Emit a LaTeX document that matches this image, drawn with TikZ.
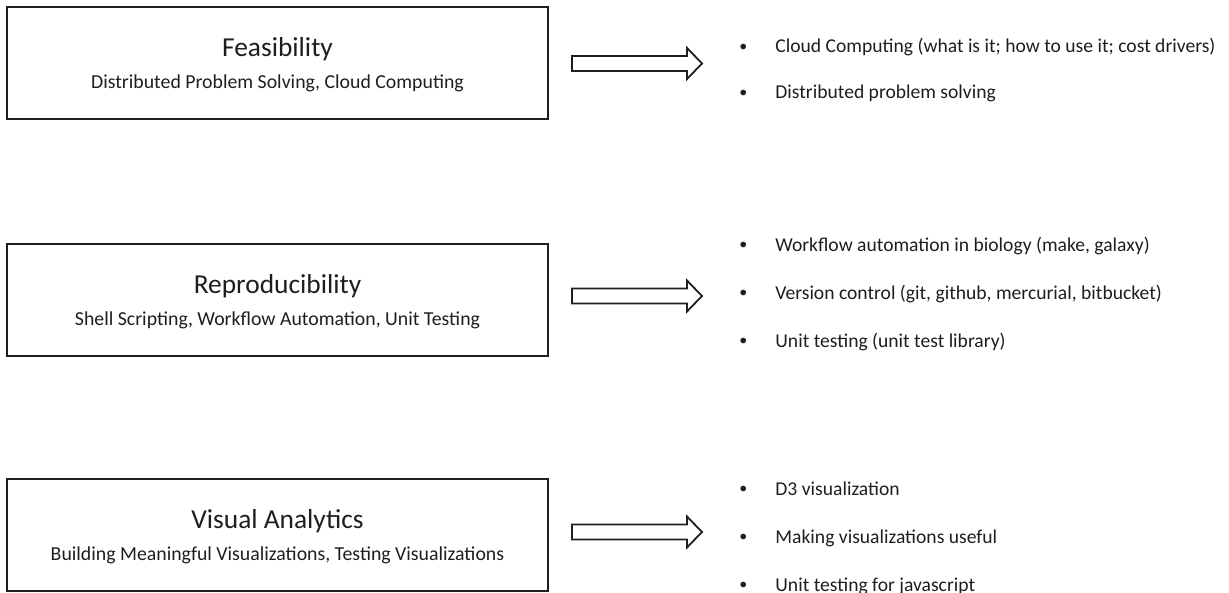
\documentclass[tikz,border=0pt]{standalone}
\usepackage{fontspec}
\setmainfont{Carlito}
\definecolor{ink}{HTML}{1E1E1E}
\newcommand{\bul}{\makebox[18pt][l]{\raisebox{0.6pt}{\fontsize{8}{9}\selectfont\textbullet}}}
\tikzstyle{topic}=[draw=ink, line width=1pt, minimum width=270.5pt,
	                   minimum height=56pt, inner sep=0pt]
\tikzstyle{topichead}=[text=ink, font=\fontsize{13.7}{16}\selectfont,
	                       anchor=base, inner sep=0pt]
\tikzstyle{topicsub}=[text=ink, font=\fontsize{9.9}{12}\selectfont,
	                      anchor=base, inner sep=0pt]
\tikzstyle{blockarrow}=[draw=ink, line width=0.9pt, line join=miter]
\tikzstyle{item}=[text=ink, font=\fontsize{9.8}{12}\selectfont,
	                  anchor=base west, inner sep=0pt]
\begin{document}
\begin{tikzpicture}[x=0.5pt, y=-0.5pt]
\useasboundingbox (0,0) rectangle (1229,593);
\foreach \n/\y/\a/\head/\sub in {
	1/63/63.5/Feasibility/{Distributed Problem Solving, Cloud Computing},
	2/299.5/296/Reproducibility/{Shell Scripting, Workflow Automation, Unit Testing},
	3/534.5/532/Visual Analytics/{Building Meaningful Visualizations, Testing Visualizations}}
{
	\node[topic] (box\n) at (277.5,\y) {};
	\node[topichead] (head\n) at ([yshift=-25.5pt]box\n.north) {\head};
	\node[topicsub] (sub\n) at ([yshift=-41.5pt]box\n.north) {\sub};
	\draw[blockarrow, shift={(0,\a)}] (572,-7.5) -- (687,-7.5) -- (687,-15.5)
		-- (702,0) -- (687,15.5) -- (687,7.5) -- (572,7.5) -- cycle;
}
% feasibility
\node[item] (feas1) at (739,53) {\bul Cloud Computing (what is it; how to use it; cost drivers)};
\node[item] (feas2) at (739,99) {\bul Distributed problem solving};
% reproducibility
\node[item] (repr1) at (739,251) {\bul Workflow automation in biology (make, galaxy)};
\node[item] (repr2) at (739,299) {\bul Version control (git, github, mercurial, bitbucket)};
\node[item] (repr3) at (739,347) {\bul Unit testing (unit test library)};
% visual analytics
\node[item] (visu1) at (739,495) {\bul D3 visualization};
\node[item] (visu2) at (739,543) {\bul Making visualizations useful};
\node[item] (visu3) at (739,591) {\bul Unit testing for javascript};
\end{tikzpicture}
\end{document}
